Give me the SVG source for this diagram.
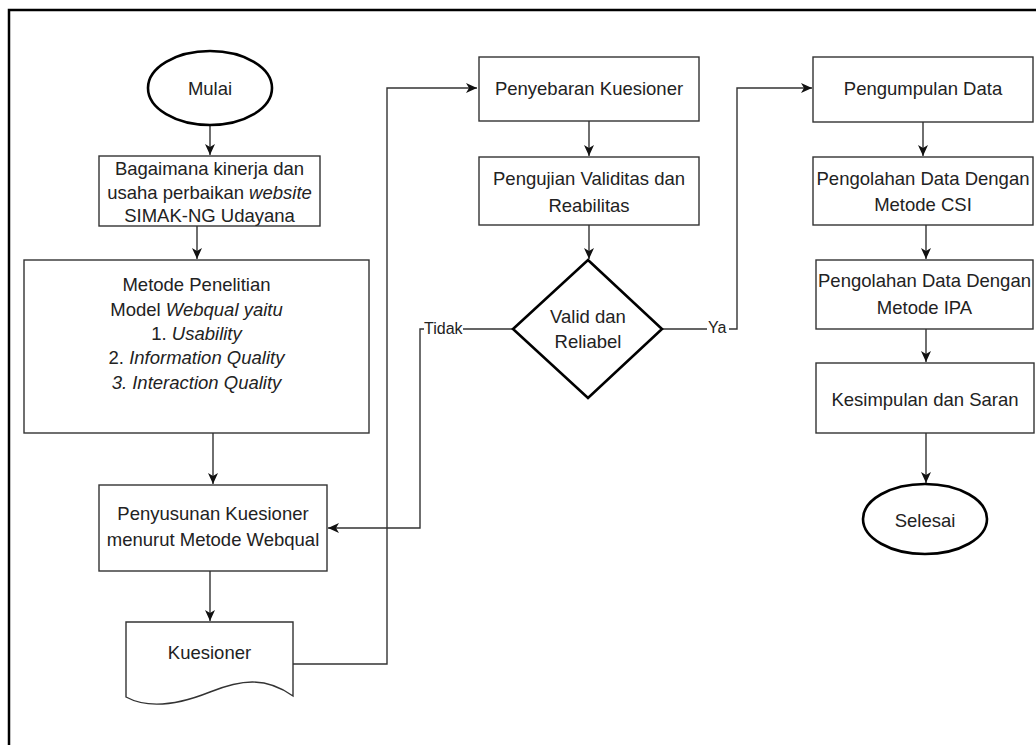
<svg xmlns="http://www.w3.org/2000/svg" width="1036" height="745" viewBox="0 0 1036 745">
<defs>
<style>
.box{fill:#fff;stroke:#333;stroke-width:1.4}
.term{fill:#fff;stroke:#000;stroke-width:2.6}
.t{font-family:"Liberation Sans",Arial,sans-serif;font-size:18.5px;fill:#222;text-anchor:middle}
.i{font-style:italic}
.lbl{font-family:"Liberation Sans",Arial,sans-serif;font-size:16px;fill:#222}
.c{fill:none;stroke:#333;stroke-width:1.4}
</style>
<marker id="ah" markerWidth="12" markerHeight="10" refX="11" refY="5" orient="auto" markerUnits="userSpaceOnUse">
<path d="M0,0 L11,5 L0,10 L3,5 Z" fill="#111"/>
</marker>
</defs>
<rect x="0" y="0" width="1036" height="745" fill="#fff"/>
<rect x="9" y="10" width="1050" height="760" fill="none" stroke="#000" stroke-width="2.5"/>

<g id="connectors">
<path class="c" d="M210,125 V155" marker-end="url(#ah)"/>
<path class="c" d="M197,226 V259" marker-end="url(#ah)"/>
<path class="c" d="M213,433 V484" marker-end="url(#ah)"/>
<path class="c" d="M210,571 V621" marker-end="url(#ah)"/>
<path class="c" d="M293,664 H387 V88 H477" marker-end="url(#ah)"/>
<path class="c" d="M589,121 V156" marker-end="url(#ah)"/>
<path class="c" d="M589,225 V259" marker-end="url(#ah)"/>
<path class="c" d="M513,329 H420 V528 H328" marker-end="url(#ah)"/>
<rect x="424" y="318" width="39" height="20" fill="#fff"/>
<text class="lbl" x="424" y="334">Tidak</text>
<path class="c" d="M662,329 H737 V88 H812" marker-end="url(#ah)"/>
<rect x="707" y="318" width="22" height="20" fill="#fff"/>
<text class="lbl" x="708" y="333">Ya</text>
<path class="c" d="M923,122 V156" marker-end="url(#ah)"/>
<path class="c" d="M926,225 V259" marker-end="url(#ah)"/>
<path class="c" d="M926,329 V362" marker-end="url(#ah)"/>
<path class="c" d="M926,433 V483" marker-end="url(#ah)"/>
</g>

<g id="mulai">
<ellipse class="term" cx="210" cy="88" rx="62" ry="37"/>
<text class="t" x="210" y="95">Mulai</text>
</g>

<g id="bagaimana">
<rect class="box" x="99" y="156" width="221" height="70"/>
<text class="t" x="209.5" y="175">Bagaimana kinerja dan</text>
<text class="t" x="209.5" y="199">usaha perbaikan <tspan class="i">website</tspan></text>
<text class="t" x="209.5" y="222">SIMAK-NG Udayana</text>
</g>

<g id="metode">
<rect class="box" x="24" y="260" width="345" height="173"/>
<text class="t" x="196.5" y="291">Metode Penelitian</text>
<text class="t" x="196.5" y="316">Model <tspan class="i">Webqual yaitu</tspan></text>
<text class="t" x="196.5" y="340">1. <tspan class="i">Usability</tspan></text>
<text class="t" x="196.5" y="364">2. <tspan class="i">Information Quality</tspan></text>
<text class="t" x="196.5" y="389"><tspan class="i">3. Interaction Quality</tspan></text>
</g>

<g id="penyusunan">
<rect class="box" x="99" y="485" width="228" height="86"/>
<text class="t" x="213" y="520">Penyusunan Kuesioner</text>
<text class="t" x="213" y="546">menurut Metode Webqual</text>
</g>

<g id="kuesioner">
<path class="box" d="M126,622 H293 V696 C265,676 240,680 210,692 C180,704 150,710 126,697 Z"/>
<text class="t" x="209.5" y="659">Kuesioner</text>
</g>

<g id="penyebaran">
<rect class="box" x="479" y="57" width="220" height="64"/>
<text class="t" x="589" y="95">Penyebaran Kuesioner</text>
</g>

<g id="pengujian">
<rect class="box" x="479" y="157" width="220" height="68"/>
<text class="t" x="589" y="185">Pengujian Validitas dan</text>
<text class="t" x="589" y="212">Reabilitas</text>
</g>

<g id="valid">
<path class="term" d="M588,260 L662,329 L588,398 L513,329 Z"/>
<text class="t" x="588" y="323">Valid dan</text>
<text class="t" x="588" y="348">Reliabel</text>
</g>

<g id="pengumpulan">
<rect class="box" x="813" y="57" width="220" height="65"/>
<text class="t" x="923" y="95">Pengumpulan Data</text>
</g>

<g id="csi">
<rect class="box" x="813" y="157" width="220" height="68"/>
<text class="t" x="923" y="185">Pengolahan Data Dengan</text>
<text class="t" x="923" y="211">Metode CSI</text>
</g>

<g id="ipa">
<rect class="box" x="816" y="260" width="217" height="69"/>
<text class="t" x="924.5" y="287">Pengolahan Data Dengan</text>
<text class="t" x="924.5" y="314">Metode IPA</text>
</g>

<g id="kesimpulan">
<rect class="box" x="816" y="363" width="218" height="70"/>
<text class="t" x="925" y="406">Kesimpulan dan Saran</text>
</g>

<g id="selesai">
<ellipse class="term" cx="925" cy="519" rx="62" ry="35"/>
<text class="t" x="925" y="527">Selesai</text>
</g>
</svg>
